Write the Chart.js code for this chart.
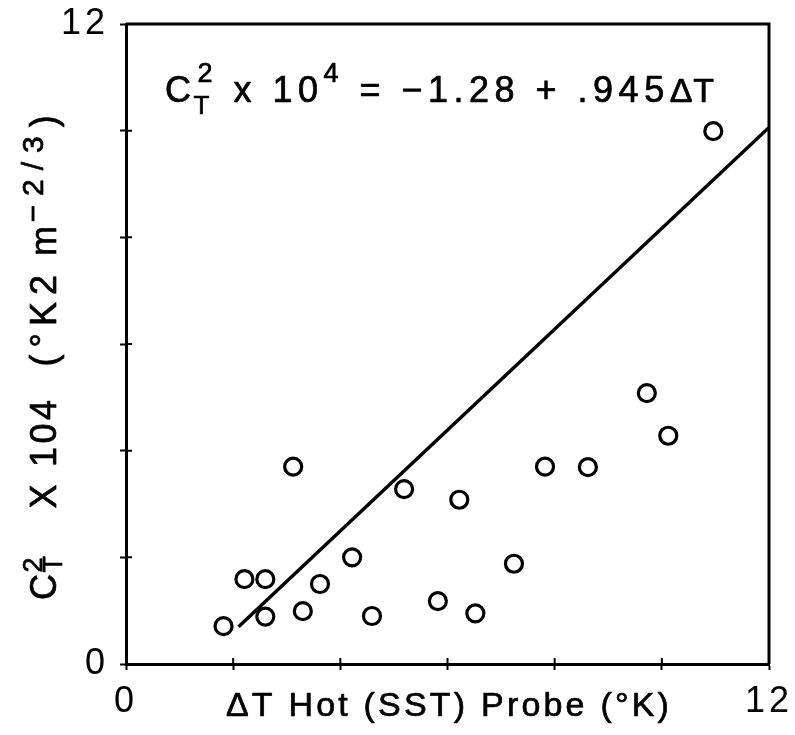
<!DOCTYPE html>
<html><head><meta charset="utf-8">
<script src="https://cdn.jsdelivr.net/npm/chart.js@4/dist/chart.umd.min.js"></script>
<style>html,body{margin:0;padding:0;background:#fff}#wrap{width:795px;height:735px}</style>
</head><body><div id="wrap"><canvas id="c" width="795" height="735"></canvas></div>
<script>
// ---- data ----
const deltaT = [1.82, 2.21, 2.60, 2.60, 3.12, 3.30, 3.62, 4.22, 4.59, 5.19, 5.82, 6.22, 6.52, 7.24, 7.82, 8.62, 9.72, 10.12, 10.96];
const ct2 =    [0.71, 1.59, 1.59, 0.89, 3.70, 0.99, 1.50, 2.00, 0.90, 3.28, 1.18, 3.08, 0.95, 1.88, 3.70, 3.69, 5.08, 4.28, 9.99];
const fitX = [2.1, 12];
const fitY = [0.70, 10.06];
const axisMin = 0, axisMax = 12, tickStep = 2;
const labeledTicks = [0, 12];

const FONT = '"Liberation Sans", Arial, sans-serif';

function drawRich(ctx, segs, x, y, rot, ls, align) {
  ctx.save();
  ctx.translate(x, y);
  ctx.rotate(rot);
  ctx.textAlign = 'left';
  ctx.textBaseline = 'alphabetic';
  ctx.fillStyle = '#000';
  ctx.strokeStyle = '#000';
  ctx.lineWidth = 0.7;
  ctx.lineJoin = 'round';
  let total = 0, pend = 0;
  segs.forEach(s => {
    if (s.gap !== undefined) { s.w = s.gap; } else {
      ctx.font = s.size + 'px ' + FONT;
      ctx.letterSpacing = (s.ls !== undefined ? s.ls : ls) + 'px';
      s.w = ctx.measureText(s.t).width;
    }
    if (s.keep) { pend = Math.max(pend, s.w); }
    else { total += Math.max(pend, s.w); pend = 0; }
  });
  let cx = align === 'left' ? 0 : -total / 2; pend = 0;
  segs.forEach(s => {
    if (s.gap === undefined) {
      ctx.font = s.size + 'px ' + FONT;
      ctx.letterSpacing = (s.ls !== undefined ? s.ls : ls) + 'px';
      ctx.fillText(s.t, cx + (s.dx || 0), s.dy || 0);
      ctx.strokeText(s.t, cx + (s.dx || 0), s.dy || 0);
    }
    if (s.keep) { pend = Math.max(pend, s.w); }
    else { cx += Math.max(pend, s.w); pend = 0; }
  });
  ctx.restore();
}

const decor = {
  id: 'decor',
  beforeDraw(chart) {
    const ctx = chart.ctx;
    ctx.save();
    ctx.fillStyle = '#fff';
    ctx.fillRect(0, 0, chart.width, chart.height);
    ctx.restore();
    ctx.letterSpacing = '4px';
  },
  afterDraw(chart) {
    const ctx = chart.ctx;
    const a = chart.chartArea;
    const xs = chart.scales.x, ys = chart.scales.y;
    ctx.save();
    ctx.letterSpacing = '0px';
    ctx.strokeStyle = '#000';
    ctx.lineWidth = 3;
    ctx.beginPath();
    ctx.moveTo(a.left, a.top); ctx.lineTo(a.right + 1.5, a.top);
    ctx.moveTo(a.right, a.top); ctx.lineTo(a.right, a.bottom);
    ctx.stroke();
    ctx.lineWidth = 2;
    ctx.beginPath();
    xs.ticks.forEach(t => { const p = xs.getPixelForValue(t.value); ctx.moveTo(p, a.bottom); ctx.lineTo(p, a.bottom - 6); });
    ys.ticks.forEach(t => { const p = ys.getPixelForValue(t.value); ctx.moveTo(a.left, p); ctx.lineTo(a.left + 6, p); });
    ctx.stroke();
    ctx.restore();

    // equation
    drawRich(ctx, [
      {t: 'C', size: 36},
      {t: '2', size: 27, dy: -20, dx: 1, keep: true},
      {t: 'T', size: 26, dy: 12, dx: -3},
      {t: ' x 10', size: 36},
      {t: '4', size: 27, dy: -20},
      {t: ' = \u22121.28 + .945', size: 36},
      {t: '\u0394T', size: 34, ls: 1}
    ], 165, 102, 0, 5.5, 'left');

    // x title
    drawRich(ctx, [{t: '\u0394T Hot (SST) Probe (\u00B0K)', size: 34}], 449, 716, 0, 3.2);

    // y title (reads bottom to top)
    drawRich(ctx, [
      {t: 'C', size: 36},
      {t: '2', size: 27, dy: -14, dx: -2, keep: true},
      {t: 'T', size: 27, dy: 6, dx: -2},
      {gap: 42},
      {t: 'X', size: 36},
      {gap: 14},
      {t: '104', size: 36},
      {gap: 30},
      {t: '(\u00B0K2', size: 36, ls: 7},
      {gap: 12},
      {t: 'm', size: 36},
      {t: '\u22122/3', size: 30, dy: -13, ls: 9},
      {t: ')', size: 36}
    ], 56, 600, -Math.PI / 2, 3.5, 'left');
  }
};

const tickCb = v => labeledTicks.includes(v) ? String(v) : '';

new Chart(document.getElementById('c'), {
  type: 'scatter',
  data: {
    datasets: [
      {
        label: 'data',
        data: deltaT.map((x, i) => ({x, y: ct2[i]})),
        pointStyle: 'circle',
        pointRadius: 8.5,
        pointHoverRadius: 8.5,
        pointBorderWidth: 3.2,
        pointBackgroundColor: 'rgba(255,255,255,0)',
        pointBorderColor: '#000',
        showLine: false
      },
      {
        type: 'line',
        label: 'fit',
        data: fitX.map((x, i) => ({x, y: fitY[i]})),
        borderColor: '#000',
        borderWidth: 3.5,
        pointRadius: 0,
        fill: false
      }
    ]
  },
  options: {
    responsive: false,
    devicePixelRatio: 1,
    animation: false,
    layout: {padding: {top: 24, right: 26, left: 0, bottom: 0}},
    plugins: {legend: {display: false}, tooltip: {enabled: false}, title: {display: false}},
    scales: {
      x: {
        type: 'linear', min: axisMin, max: axisMax,
        ticks: {stepSize: tickStep, callback: tickCb, color: '#000', font: {family: FONT, size: 36}, padding: 10, maxRotation: 0, autoSkip: false},
        grid: {drawOnChartArea: false, drawTicks: true, tickLength: 6, tickWidth: 2, tickColor: '#000'},
        border: {display: true, color: '#000', width: 3},
        afterFit(s) { s.height = 71; s.paddingLeft = 0; s.paddingRight = 0; }
      },
      y: {
        type: 'linear', min: axisMin, max: axisMax,
        ticks: {stepSize: tickStep, callback: tickCb, color: '#000', font: {family: FONT, size: 36}, padding: 11, autoSkip: false},
        grid: {drawOnChartArea: false, drawTicks: true, tickLength: 6, tickWidth: 2, tickColor: '#000'},
        border: {display: true, color: '#000', width: 3},
        afterFit(s) { s.width = 126; s.paddingTop = 0; s.paddingBottom = 0; }
      }
    }
  },
  plugins: [decor]
});
</script>
</body></html>
